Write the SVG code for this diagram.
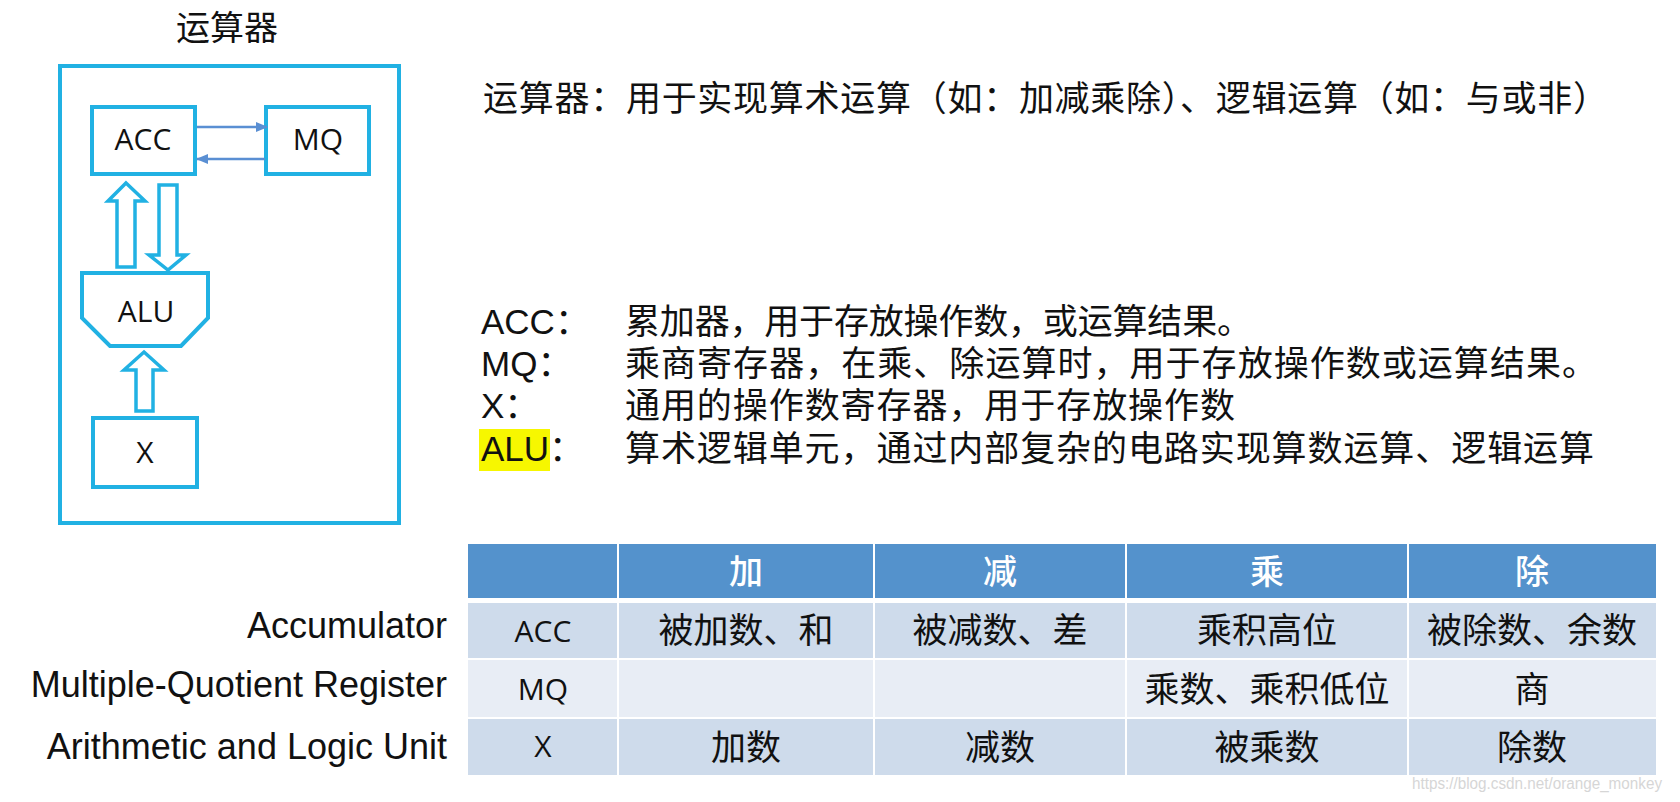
<svg xmlns="http://www.w3.org/2000/svg" width="1680" height="802" viewBox="0 0 1680 802">
<style>
.cy{fill:#fff;stroke:#21b1e3;stroke-width:4}
.blk{fill:#fff;stroke:#21b1e3;stroke-width:3.5;stroke-linejoin:miter}
.lat{font-family:"Open Sans","Liberation Sans",sans-serif;font-size:30px;fill:#111;text-anchor:middle}
.cjk{font-family:"Noto Sans CJK SC","Noto Sans CJK JP",sans-serif;fill:#111}
.txt{font-family:"Liberation Sans","Noto Sans CJK SC",sans-serif;font-size:35px;fill:#111}
.lbl{font-family:"Liberation Sans",Arial,sans-serif;font-size:36px;fill:#111;text-anchor:end}
.hd{fill:#5492cc}
.r1{fill:#cedbeb}
.r2{fill:#e8edf5}
.ht{font-family:"Noto Sans CJK SC",sans-serif;font-size:34px;font-weight:500;fill:#fff;text-anchor:middle}
.ct{font-family:"Noto Sans CJK SC",sans-serif;font-size:35px;fill:#111;text-anchor:middle}
.c0{font-family:"Open Sans","Liberation Sans",sans-serif;font-size:30px;fill:#111;text-anchor:middle}
.ln{stroke:#5a8fd3;stroke-width:2.5;fill:none}
</style>
<defs>
<marker id="ah" viewBox="0 0 12 10" refX="11" refY="5" markerWidth="12" markerHeight="10" markerUnits="userSpaceOnUse" orient="auto">
<path d="M0,0 L12,5 L0,10 z" fill="#5a8fd3"/>
</marker>
</defs>
<rect width="1680" height="802" fill="#fff"/>

<g id="title">
<text class="cjk" x="227" y="40" font-size="34" text-anchor="middle">运算器</text>
</g>
<g id="outer">
<rect class="cy" x="60" y="66" width="339" height="457"/>
</g>
<g id="acc">
<rect class="cy" x="92" y="107" width="103" height="67"/>
<text class="lat" x="143" y="150">ACC</text>
</g>
<g id="mq">
<rect class="cy" x="266" y="107" width="103" height="67"/>
<text class="lat" x="318" y="150">MQ</text>
</g>
<g id="alu">
<polygon class="cy" points="82,273 208,273 208,318 181,346 110,346 82,318"/>
<text class="lat" x="146" y="322">ALU</text>
</g>
<g id="x">
<rect class="cy" x="93" y="418" width="104" height="69"/>
<text class="lat" x="145" y="463">X</text>
</g>

<g id="connectors">
<line class="ln" x1="197" y1="127" x2="267" y2="127" marker-end="url(#ah)"/>
<line class="ln" x1="265" y1="159" x2="197" y2="159" marker-end="url(#ah)"/>
<polygon class="blk" points="126,183 145,201 135,201 135,267 117,267 117,201 108,201"/>
<polygon class="blk" points="159,185 177,185 177,255 186,255 168,270 149,255 159,255"/>
<polygon class="blk" points="144,352 164,370 153,370 153,411 136,411 136,370 124,370"/>
</g>

<g id="desc">
<text class="cjk" x="483" y="111" font-size="35" textLength="1125" lengthAdjust="spacing">运算器：用于实现算术运算（如：加减乘除）、逻辑运算（如：与或非）</text>
<rect x="479" y="429" width="71" height="42" fill="#f7f700"/>
<text class="txt" x="481" y="334">ACC：</text>
<text class="txt" x="481" y="376">MQ：</text>
<text class="txt" x="481" y="418">X：</text>
<text class="txt" x="481" y="461">ALU：</text>
<text class="cjk" x="625" y="334" font-size="35" textLength="627" lengthAdjust="spacing">累加器，用于存放操作数，或运算结果。</text>
<text class="cjk" x="625" y="376" font-size="35" textLength="972" lengthAdjust="spacing">乘商寄存器，在乘、除运算时，用于存放操作数或运算结果。</text>
<text class="cjk" x="625" y="418" font-size="35" textLength="610" lengthAdjust="spacing">通用的操作数寄存器，用于存放操作数</text>
<text class="cjk" x="625" y="461" font-size="35" textLength="969" lengthAdjust="spacing">算术逻辑单元，通过内部复杂的电路实现算数运算、逻辑运算</text>
</g>

<g id="labels">
<text class="lbl" x="447" y="638">Accumulator</text>
<text class="lbl" x="447" y="697">Multiple-Quotient Register</text>
<text class="lbl" x="447" y="759">Arithmetic and Logic Unit</text>
</g>

<g id="table">
<rect class="hd" x="468" y="544" width="149" height="54"/>
<rect class="hd" x="619" y="544" width="254" height="54"/>
<rect class="hd" x="875" y="544" width="250" height="54"/>
<rect class="hd" x="1127" y="544" width="280" height="54"/>
<rect class="hd" x="1409" y="544" width="247" height="54"/>
<rect class="r1" x="468" y="603" width="149" height="55"/>
<rect class="r1" x="619" y="603" width="254" height="55"/>
<rect class="r1" x="875" y="603" width="250" height="55"/>
<rect class="r1" x="1127" y="603" width="280" height="55"/>
<rect class="r1" x="1409" y="603" width="247" height="55"/>
<rect class="r2" x="468" y="660" width="149" height="57"/>
<rect class="r2" x="619" y="660" width="254" height="57"/>
<rect class="r2" x="875" y="660" width="250" height="57"/>
<rect class="r2" x="1127" y="660" width="280" height="57"/>
<rect class="r2" x="1409" y="660" width="247" height="57"/>
<rect class="r1" x="468" y="719" width="149" height="56"/>
<rect class="r1" x="619" y="719" width="254" height="56"/>
<rect class="r1" x="875" y="719" width="250" height="56"/>
<rect class="r1" x="1127" y="719" width="280" height="56"/>
<rect class="r1" x="1409" y="719" width="247" height="56"/>
<text class="ht" x="746" y="584">加</text>
<text class="ht" x="1000" y="584">减</text>
<text class="ht" x="1267" y="584">乘</text>
<text class="ht" x="1532" y="584">除</text>
<text class="c0" x="543" y="642">ACC</text>
<text class="c0" x="543" y="700">MQ</text>
<text class="c0" x="543" y="757">X</text>
<text class="ct" x="746" y="643">被加数、和</text>
<text class="ct" x="1000" y="643">被减数、差</text>
<text class="ct" x="1267" y="643">乘积高位</text>
<text class="ct" x="1532" y="643">被除数、余数</text>
<text class="ct" x="1267" y="702">乘数、乘积低位</text>
<text class="ct" x="1532" y="702">商</text>
<text class="ct" x="746" y="760">加数</text>
<text class="ct" x="1000" y="760">减数</text>
<text class="ct" x="1267" y="760">被乘数</text>
<text class="ct" x="1532" y="760">除数</text>
</g>

<text x="1412" y="789" font-family="Liberation Sans, Arial, sans-serif" font-size="16" textLength="250" lengthAdjust="spacingAndGlyphs" fill="#d6d6d6">https://blog.csdn.net/orange_monkey</text>
</svg>
